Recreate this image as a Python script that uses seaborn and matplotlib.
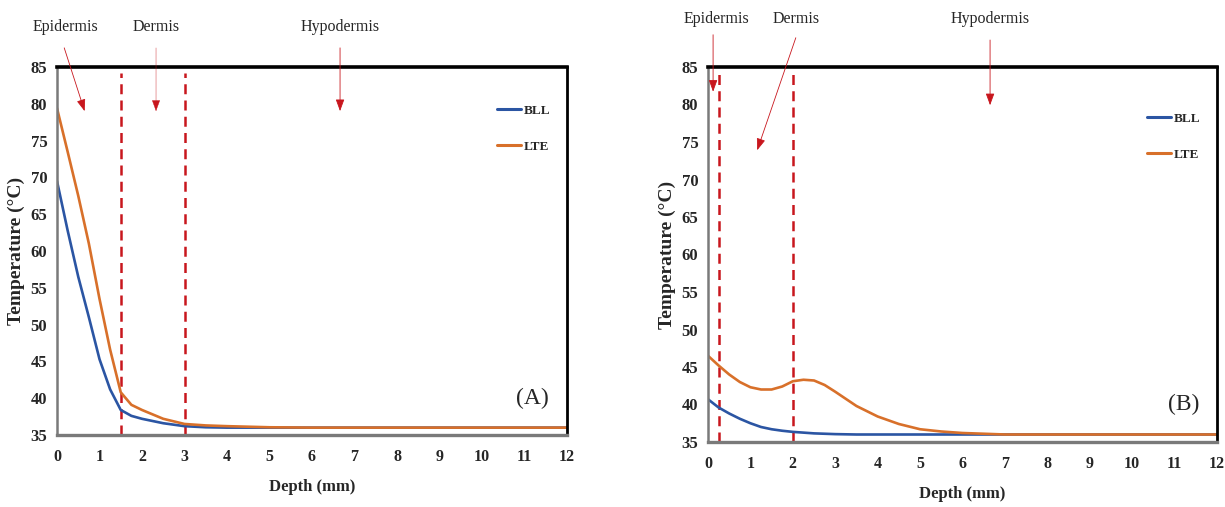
import matplotlib
matplotlib.use("Agg")
import matplotlib.pyplot as plt
import seaborn as sns
import pandas as pd

# ---------------- data ----------------
depth_a = [0, 0.25, 0.5, 0.75, 1.0, 1.25, 1.5, 1.75, 2.0, 2.5, 3.0, 3.5, 4, 5, 6, 8, 10, 12]
bll_a = [69.5, 62.8, 56.5, 51.0, 45.3, 41.2, 38.4, 37.6, 37.2, 36.6, 36.2, 36.05, 36.0, 36.0, 36.0, 36.0, 36.0, 36.0]
lte_a = [79.4, 73.5, 67.5, 61.0, 53.5, 46.6, 40.8, 39.1, 38.4, 37.2, 36.5, 36.3, 36.2, 36.05, 36.0, 36.0, 36.0, 36.0]

depth_b = [0, 0.25, 0.5, 0.75, 1.0, 1.25, 1.5, 1.75, 2.0, 2.25, 2.5, 2.75, 3.0, 3.5, 4.0, 4.5, 5.0, 5.5, 6.0, 7.0, 8, 10, 12]
bll_b = [40.7, 39.6, 38.8, 38.1, 37.5, 37.0, 36.7, 36.5, 36.35, 36.25, 36.15, 36.1, 36.05, 36.0, 36.0, 36.0, 36.0, 36.0, 36.0, 36.0, 36.0, 36.0, 36.0]
lte_b = [46.5, 45.2, 44.0, 43.0, 42.3, 42.0, 42.0, 42.4, 43.1, 43.3, 43.2, 42.6, 41.7, 39.8, 38.4, 37.4, 36.7, 36.4, 36.2, 36.0, 36.0, 36.0, 36.0]

series = ["BLL", "LTE"]
layers = ["Epidermis", "Dermis", "Hypodermis"]
bounds_a = [1.5, 3.0]
bounds_b = [0.25, 2.0]
x_ticks = list(range(0, 13))
y_ticks = list(range(35, 86, 5))
panel_tags = ["(A)", "(B)"]

# ---------------- style ----------------
sns.set_theme(style="white")
plt.rcParams["font.family"] = ["Liberation Serif", "DejaVu Serif"]

palette = {"BLL": "#2B55A3", "LTE": "#D8702A"}
red = "#C8161D"

fig = plt.figure(figsize=(12.25, 5.07), dpi=100)
ax_a = fig.add_axes([57 / 1225, 1 - 435 / 507, 510 / 1225, 368 / 507])
ax_b = fig.add_axes([708 / 1225, 1 - 442 / 507, 509 / 1225, 375 / 507])


def make_df(depth, bll, lte):
    return pd.DataFrame({
        "Depth": depth + depth,
        "Temperature": bll + lte,
        "Model": [series[0]] * len(depth) + [series[1]] * len(depth),
    })


def style_axes(ax, bounds, tag, leg_anchor):
    ax.set_xlim(0, 12)
    ax.set_ylim(35, 85)
    ax.set_xticks(x_ticks)
    ax.set_yticks(y_ticks)
    ax.tick_params(axis="y", length=0, pad=7, labelsize=12)
    ax.tick_params(axis="x", length=0, pad=10, labelsize=11.5)
    for lab in ax.get_xticklabels() + ax.get_yticklabels():
        lab.set_fontweight("bold")
    ax.set_xlabel("Depth (mm)", fontsize=12, fontweight="bold", labelpad=10)
    ax.set_ylabel("Temperature (\u00b0C)", fontsize=14, fontweight="bold", labelpad=4)
    ax.spines["top"].set_color("black")
    ax.spines["top"].set_linewidth(2.6)
    ax.spines["right"].set_color("black")
    ax.spines["right"].set_linewidth(2.0)
    ax.spines["left"].set_color("#7a7a7a")
    ax.spines["left"].set_linewidth(1.8)
    ax.spines["bottom"].set_color("#7a7a7a")
    ax.spines["bottom"].set_linewidth(2.4)
    for b in bounds:
        ax.axvline(b, ymin=0, ymax=0.985, color=red, lw=1.8, ls=(0, (4, 2.5)), zorder=1)
    ax.text(0.965, 0.1, tag, transform=ax.transAxes, fontsize=17,
            ha="right", va="center")
    leg = ax.legend(loc="upper right", bbox_to_anchor=leg_anchor, frameon=False,
                    handlelength=1.8, handletextpad=0.2, labelspacing=1.8,
                    prop={"weight": "bold", "size": 9.5})
    for line in leg.get_lines():
        line.set_linewidth(2.2)


def arrow(ax, start, end, lw=0.6):
    ax.annotate("", xy=end, xytext=start, xycoords="data", textcoords="data",
                annotation_clip=False,
                arrowprops=dict(arrowstyle="-|>,head_length=0.6,head_width=0.22",
                                color=red, lw=lw, shrinkA=0, shrinkB=0))


# ---------- panel A ----------
df_a = make_df(depth_a, bll_a, lte_a)
sns.lineplot(data=df_a, x="Depth", y="Temperature", hue="Model", palette=palette,
             linewidth=1.9, ax=ax_a)
style_axes(ax_a, bounds_a, panel_tags[0], (0.99, 0.93))

ann_a = [(layers[0], 0.19, (0.17, 87.6), (0.65, 79.0)),
         (layers[1], 2.33, (2.33, 87.6), (2.33, 79.0)),
         (layers[2], 6.66, (6.66, 87.6), (6.66, 79.0))]
for name, tx, s, e in ann_a:
    ax_a.text(tx, 90.4, name, ha="center", va="center", fontsize=11.5, clip_on=False)
    arrow(ax_a, s, e, lw=0.3 if name == layers[1] else 0.6)

# ---------- panel B ----------
df_b = make_df(depth_b, bll_b, lte_b)
sns.lineplot(data=df_b, x="Depth", y="Temperature", hue="Model", palette=palette,
             linewidth=1.9, ax=ax_b)
style_axes(ax_b, bounds_b, panel_tags[1], (0.99, 0.91))

ann_b = [(layers[0], 0.2, (0.12, 89.3), (0.12, 81.7)),
         (layers[1], 2.07, (2.07, 88.9), (1.16, 73.9)),
         (layers[2], 6.65, (6.65, 88.6), (6.65, 79.9))]
for name, tx, s, e in ann_b:
    ax_b.text(tx, 91.4, name, ha="center", va="center", fontsize=11.5, clip_on=False)
    arrow(ax_b, s, e)

fig.savefig("out.png", dpi=100)
